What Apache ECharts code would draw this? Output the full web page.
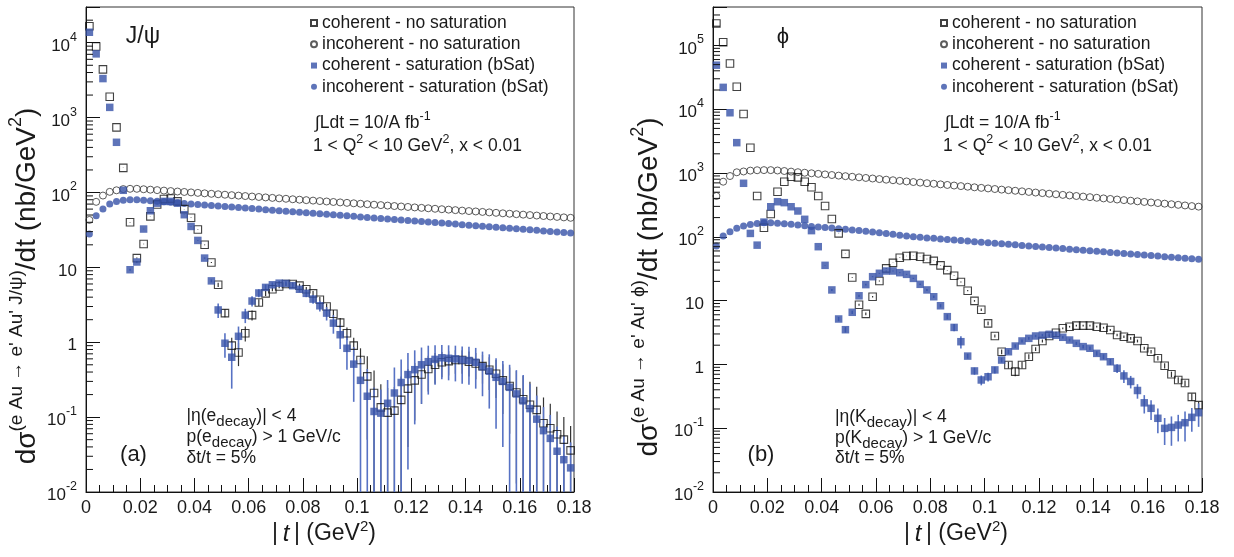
<!DOCTYPE html>
<html>
<head>
<meta charset="utf-8">
<script src="https://cdn.jsdelivr.net/npm/echarts@6/dist/echarts.min.js"></script>
<style>
html,body{margin:0;padding:0;background:#fff;}
#c{width:1234px;height:557px;}
</style>
</head>
<body>
<div id="c"></div>
<script>
// ---------- data ----------
const tBins = [0.00125,0.00375,0.00625,0.00875,0.01125,0.01375,0.01625,0.01875,0.02125,0.02375,
0.02625,0.02875,0.03125,0.03375,0.03625,0.03875,0.04125,0.04375,0.04625,0.04875,
0.05125,0.05375,0.05625,0.05875,0.06125,0.06375,0.06625,0.06875,0.07125,0.07375,
0.07625,0.07875,0.08125,0.08375,0.08625,0.08875,0.09125,0.09375,0.09625,0.09875,
0.10125,0.10375,0.10625,0.10875,0.11125,0.11375,0.11625,0.11875,0.12125,0.12375,
0.12625,0.12875,0.13125,0.13375,0.13625,0.13875,0.14125,0.14375,0.14625,0.14875,
0.15125,0.15375,0.15625,0.15875,0.16125,0.16375,0.16625,0.16875,0.17125,0.17375,
0.17625,0.17875];

const xTickLabels = ['0','0.02','0.04','0.06','0.08','0.1','0.12','0.14','0.16','0.18'];
const seriesNames = ['coherent - no saturation','incoherent - no saturation','coherent - saturation (bSat)','incoherent - saturation (bSat)'];

// (a) J/psi
const jpsiCohNoSat = [16600,8900,4400,1900,740,213,40,13.3,20.5,48,
69,82,83,76,60,46,32,20,11.6,5.85,
2.45,0.9,0.73,1.32,2.3,3.4,4.5,5.1,5.55,6.0,
6.0,5.7,5.1,4.5,3.7,3.0,2.4,1.83,1.32,0.9,
0.58,0.35,0.21,0.135,0.115,0.122,0.17,0.24,0.31,0.37,
0.44,0.50,0.54,0.56,0.58,0.58,0.55,0.52,0.48,0.43,
0.38,0.31,0.26,0.213,0.173,0.146,0.125,0.083,0.071,0.059,
0.05,0.036];
const jpsiCohNoSatErr = [0.2,0.2,0.2,0.2,0.2,0.2,0.2,0.2,0.2,0.2,
0.2,0.2,0.2,0.2,0.2,0.2,0.2,0.2,0.2,0.4,
0.3,0.25,0.25,0.3,0.35,0.35,0.35,0.3,0.3,0.3,
0.3,0.35,0.35,0.35,0.35,0.3,0.3,0.28,0.25,0.25,
0.25,0.3,0.21,0.14,0.13,0.13,0.18,0.2,0.22,0.22,
0.22,0.22,0.2,0.2,0.2,0.2,0.2,0.2,0.2,0.2,
0.2,0.2,0.2,0.2,0.18,0.15,0.13,0.1,0.08,0.06,
0.05,0.04];
const jpsiCohSat = [13800,7100,3320,1370,468,107,9.3,11.8,32.5,57,
72,76,76,72,50.5,35.2,22.9,13.3,6.6,2.7,
0.97,0.63,1.2,2.3,3.55,4.55,5.4,5.85,6.15,6.1,
5.7,5.1,4.5,3.77,3.07,2.45,1.8,1.26,0.83,0.51,
0.31,0.19,0.119,0.113,0.153,0.21,0.29,0.37,0.43,0.50,
0.55,0.59,0.62,0.61,0.60,0.58,0.57,0.54,0.47,0.41,
0.34,0.30,0.25,0.204,0.165,0.13,0.094,0.066,0.052,0.035,
0.027,0.021];
const jpsiCohSatErr = [0.3,0.3,0.3,0.3,0.3,0.3,0.3,0.3,0.3,0.3,
0.3,0.3,0.3,0.3,0.3,0.3,0.3,0.3,0.3,0.6,
0.35,0.39,0.42,0.5,0.55,0.55,0.5,0.45,0.4,0.4,
0.4,0.45,0.5,0.5,0.5,0.5,0.5,0.45,0.4,0.35,
0.3,0.25,0.13,0.12,0.16,0.25,0.3,0.35,0.35,0.35,
0.35,0.32,0.3,0.3,0.3,0.3,0.3,0.3,0.28,0.28,
0.27,0.26,0.25,0.22,0.2,0.15,0.1,0.07,0.055,0.04,
0.03,0.025];
const jpsiIncNoSat = [43,75,91,102,107,111,112,112,110.5,109,
107.5,106,104.5,103,101.6,100.2,98.8,97.4,96,94.7,
93.4,92.1,90.8,89.6,88.3,87.1,85.9,84.7,83.5,82.4,
81.2,80.1,79,77.9,76.8,75.8,74.7,73.7,72.7,71.7,
70.7,69.7,68.7,67.8,66.8,65.9,65,64.1,63.2,62.3,
61.5,60.6,59.8,59,58.1,57.3,56.5,55.8,55,54.2,
53.5,52.7,52,51.3,50.6,49.9,49.2,48.5,47.8,47.2,
46.5,45.9];
const jpsiIncSat = [28,49,60,70,76,79,80,80,78.7,77.5,
76.3,75,73.8,72.7,71.5,70.4,69.3,68.2,67.1,66,
65,64,63,62,61,60,59,58.1,57.2,56.3,
55.4,54.5,53.6,52.8,52,51.1,50.3,49.5,48.8,48,
47.2,46.5,45.7,45,44.3,43.6,42.9,42.2,41.6,40.9,
40.3,39.6,39,38.4,37.8,37.2,36.6,36,35.4,34.9,
34.3,33.8,33.2,32.7,32.2,31.7,31.2,30.7,30.2,29.7,
29.3,28.8];

// (b) phi
const phiCohNoSat = [220000,112000,52000,22500,8400,2490,436,139,228,509,
731,875,855,731,597,436,304,190,113,54,
23,8.6,6.2,11.5,20.3,32,39,47,50,50.4,
48.8,44.9,42,35.7,30,24.5,19.6,14.3,9.9,7.2,
4.4,2.79,1.58,0.98,0.77,0.98,1.32,1.74,2.33,2.79,
3.14,3.68,3.9,4.05,4.05,4.05,3.9,3.76,3.46,2.89,
2.72,2.56,2.33,1.79,1.58,1.25,0.95,0.70,0.57,0.51,
0.31,0.23];
const phiCohNoSatErr = [0.5,0.5,0.5,0.5,0.5,0.5,0.5,0.5,0.5,0.5,
0.5,0.5,0.5,0.5,0.5,0.5,0.5,0.5,0.5,0.3,
0.3,0.3,0.3,0.3,0.3,0.3,0.3,0.3,0.3,0.3,
0.3,0.3,0.3,0.3,0.3,0.3,0.3,0.3,0.3,0.3,
0.3,0.15,0.14,0.12,0.12,0.12,0.12,0.12,0.12,0.12,
0.12,0.12,0.12,0.12,0.12,0.12,0.12,0.12,0.12,0.12,
0.12,0.12,0.12,0.1,0.1,0.1,0.09,0.07,0.06,0.05,
0.04,0.03];
const phiCohSat = [49000,22000,8800,2990,690,113,74,170,296,355,
343,296,254,188,125,70,35.7,14.7,5.15,3.5,
6.56,11.9,17.8,23.7,26.8,29.1,29.1,27.4,25.8,22.3,
18,14.7,11.5,8.3,5.6,3.8,2.27,1.35,0.79,0.57,
0.64,0.82,1.17,1.58,1.94,2.33,2.56,2.79,2.87,2.96,
2.87,2.66,2.41,2.14,1.9,1.79,1.49,1.32,1.10,0.87,
0.66,0.54,0.39,0.25,0.205,0.143,0.0995,0.103,0.112,0.122,
0.148,0.175];
const phiCohSatErr = [0.3,0.3,0.3,0.3,0.3,0.3,0.3,0.3,0.3,0.3,
0.3,0.3,0.3,0.3,0.3,0.3,0.3,0.5,0.4,0.35,
0.4,0.5,0.5,0.5,0.5,0.5,0.5,0.5,0.5,0.5,
0.5,0.5,0.5,0.5,0.5,0.5,0.5,0.12,0.1,0.1,
0.1,0.1,0.1,0.12,0.12,0.12,0.12,0.12,0.12,0.12,
0.12,0.12,0.12,0.12,0.12,0.12,0.12,0.12,0.12,0.14,
0.15,0.12,0.1,0.08,0.07,0.06,0.045,0.05,0.05,0.06,
0.06,0.07];
const phiIncNoSat = [436,731,897,1026,1057,1090,1105,1110,1110,1095,
1075,1052,1030,1010,990,970,950,930,910,892,
873,855,837,820,803,786,770,754,738,722,
707,692,678,664,650,636,623,610,597,585,
573,561,549,538,527,516,505,494,484,474,
464,454,445,436,427,418,409,400,392,384,
376,368,360,352,345,338,331,324,317,310,
303,297];
const phiIncSat = [72,103,120,136,148,156,162,166,166,163,
160,157,153,149,145,142,140,137,134,131,
128,125,122,119,116,113,110,106,103,100,
98,96,94.5,92.5,91,89,87.3,85.6,84,82.4,
80.8,79.2,77.7,76.2,74.8,73.3,71.9,70.6,69.2,67.9,
66.6,65.3,64,62.8,61.6,60.4,59.3,58.1,57,55.9,
54.8,53.8,52.8,51.7,50.8,49.8,48.8,47.9,47,46.1,
45.2,44.3];

// ---------- chart ----------
const FONT = '"Liberation Sans", Arial, Helvetica, sans-serif';
const TXT = '#1a1a1a';
const BLUE = '#3651a8';
const BLUE_ERR = '#5772c4';
const YMIN = 0.01;
const yMaxA = 30000, yMaxB = 400000;

function pts(ys) { return tBins.map((t, i) => [t, ys[i]]); }

function minorLogTicks(maxV) {
  const out = [];
  for (let d = -2; d <= 6; d++) {
    for (let m = 2; m <= 9; m++) {
      const v = m * Math.pow(10, d);
      if (v < maxV) out.push(v);
    }
  }
  return out;
}

function xAxisCfg(gi) {
  return {
    type: 'value', gridIndex: gi, min: 0, max: 0.18, interval: 0.02,
    axisLine: { show: true, onZero: false, lineStyle: { color: '#111', width: 1 } },
    axisTick: { show: true, inside: true, length: 14, lineStyle: { color: '#111', width: 1 } },
    minorTick: { show: true, splitNumber: 4, length: 7, lineStyle: { color: '#111', width: 1 } },
    splitLine: { show: false }, minorSplitLine: { show: false },
    axisLabel: {
      show: true, margin: 7, fontSize: 18, color: TXT, fontFamily: FONT, hideOverlap: false,
      formatter: v => xTickLabels[Math.round(v / 0.02)] || ''
    }
  };
}

function powLabel(v) {
  const lg = Math.log10(v);
  const e = Math.round(lg);
  if (Math.abs(lg - e) > 1e-6) return '';
  if (e === 0) return '{b|1}';
  if (e === 1) return '{b|10}';
  return '{b|10}{s|' + e + '}';
}

function yAxisCfg(gi, maxV) {
  return {
    type: 'log', logBase: 10, gridIndex: gi, min: YMIN, max: maxV, splitNumber: 10,
    axisLine: { show: true, lineStyle: { color: '#111', width: 1 } },
    axisTick: { show: true, inside: true, length: 14, lineStyle: { color: '#111', width: 1 } },
    splitLine: { show: false },
    axisLabel: {
      show: true, margin: 9, color: TXT, fontFamily: FONT, fontSize: 17, hideOverlap: false,
      formatter: powLabel,
      rich: {
        b: { fontSize: 17, fontFamily: FONT, color: TXT, lineHeight: 24, verticalAlign: 'bottom' },
        s: { fontSize: 12.5, fontFamily: FONT, color: TXT, lineHeight: 13, verticalAlign: 'top' }
      }
    }
  };
}

function minorTickSeries(gi, vals) {
  return {
    type: 'custom', xAxisIndex: gi, yAxisIndex: gi, silent: true, z: 5,
    data: vals.map(v => [0, v]),
    renderItem: (params, api) => {
      const c = api.coord([0, api.value(1)]);
      return { type: 'line', shape: { x1: c[0], y1: c[1], x2: c[0] + 7, y2: c[1] },
        style: { stroke: '#111', lineWidth: 1 } };
    }
  };
}

function errSeries(gi, ys, errs, color, width) {
  return {
    type: 'custom', xAxisIndex: gi, yAxisIndex: gi, silent: true, z: 2,
    data: tBins.map((t, i) => [t, ys[i], errs[i]]),
    renderItem: (params, api) => {
      const x = api.value(0), y = api.value(1), e = api.value(2);
      let lo = y - e; if (lo < YMIN) lo = YMIN;
      const p1 = api.coord([x, y + e]);
      const p2 = api.coord([x, lo]);
      return { type: 'line', shape: { x1: p1[0], y1: p1[1], x2: p2[0], y2: p2[1] },
        style: { stroke: color, lineWidth: width } };
    }
  };
}

function markerSeries(gi, name, ys, kind) {
  const base = { type: 'scatter', name, xAxisIndex: gi, yAxisIndex: gi, data: pts(ys), silent: true, z: 3 };
  if (kind === 'openSq') return Object.assign(base, { symbol: 'rect', symbolSize: 7.5,
    itemStyle: { color: 'rgba(255,255,255,0)', borderColor: '#111', borderWidth: 1.1 } });
  if (kind === 'openCi') return Object.assign(base, { symbol: 'circle', symbolSize: 7,
    itemStyle: { color: 'rgba(255,255,255,0)', borderColor: '#333', borderWidth: 1 } });
  if (kind === 'fullSq') return Object.assign(base, { symbol: 'rect', symbolSize: 7.5, z: 4,
    itemStyle: { color: BLUE, borderWidth: 0 } });
  return Object.assign(base, { symbol: 'circle', symbolSize: 7, itemStyle: { color: BLUE, borderWidth: 0 } });
}

function panelSeries(gi, cohNoSat, cohNoSatErr, cohSat, cohSatErr, incNoSat, incSat, maxV) {
  return [
    minorTickSeries(gi, minorLogTicks(maxV)),
    errSeries(gi, cohNoSat, cohNoSatErr, '#333', 1.2),
    errSeries(gi, cohSat, cohSatErr, BLUE_ERR, 1.6),
    markerSeries(gi, seriesNames[1], incNoSat, 'openCi'),
    markerSeries(gi, seriesNames[3], incSat, 'fullCi'),
    markerSeries(gi, seriesNames[0], cohNoSat, 'openSq'),
    markerSeries(gi, seriesNames[2], cohSat, 'fullSq')
  ];
}

const mStyle = { fontSize: 17.5, fontFamily: FONT, fill: TXT, color: TXT, lineHeight: 26, verticalAlign: 'middle' };
const supStyle = { fontSize: 12.5, fontFamily: FONT, fill: TXT, color: TXT, lineHeight: 12, verticalAlign: 'top' };
const subStyle = { fontSize: 15, fontFamily: FONT, fill: TXT, color: TXT, lineHeight: 15, verticalAlign: 'bottom' };

function txt(x, y, text, opts) {
  opts = opts || {};
  return {
    type: 'text', x, y, rotation: opts.rot || 0, silent: true, z: 10,
    style: {
      text, align: opts.align || 'left', verticalAlign: 'middle',
      fontSize: opts.size || 17.5, fontFamily: FONT, fill: TXT,
      rich: opts.rich || { m: mStyle, s: supStyle, d: subStyle }
    }
  };
}

const yTitleRich = {
  m: { fontSize: 28, fontFamily: FONT, fill: TXT, lineHeight: 40, verticalAlign: 'middle' },
  s: { fontSize: 19, fontFamily: FONT, fill: TXT, lineHeight: 19, verticalAlign: 'top' },
  s2: { fontSize: 18, fontFamily: FONT, fill: TXT, lineHeight: 18, verticalAlign: 'top' }
};
const xTitleRich = {
  m: { fontSize: 23, fontFamily: FONT, fill: TXT, lineHeight: 30, verticalAlign: 'middle' },
  i: { fontSize: 24, fontFamily: FONT, fontStyle: 'italic', fill: TXT, lineHeight: 30, verticalAlign: 'middle' },
  s: { fontSize: 15, fontFamily: FONT, fill: TXT, lineHeight: 15, verticalAlign: 'top' }
};

function legendCfg(left) {
  return {
    left, top: 12.3, orient: 'vertical', itemWidth: 6, itemHeight: 6, itemGap: 0, itemTextGap: 16,
    selectedMode: false, data: seriesNames, padding: 0,
    textStyle: { fontSize: 17.5, lineHeight: 21.3, color: TXT, fontFamily: FONT }
  };
}

const option = {
  animation: false,
  backgroundColor: '#fff',
  textStyle: { fontFamily: FONT },
  grid: [
    { left: 86, top: 7, width: 488, height: 485, show: true, borderColor: '#333', borderWidth: 1, backgroundColor: 'transparent' },
    { left: 713, top: 7, width: 489, height: 485, show: true, borderColor: '#333', borderWidth: 1, backgroundColor: 'transparent' }
  ],
  xAxis: [xAxisCfg(0), xAxisCfg(1)],
  yAxis: [yAxisCfg(0, yMaxA), yAxisCfg(1, yMaxB)],
  legend: [legendCfg(310), legendCfg(940)],
  series: [].concat(
    panelSeries(0, jpsiCohNoSat, jpsiCohNoSatErr, jpsiCohSat, jpsiCohSatErr, jpsiIncNoSat, jpsiIncSat, yMaxA),
    panelSeries(1, phiCohNoSat, phiCohNoSatErr, phiCohSat, phiCohSatErr, phiIncNoSat, phiIncSat, yMaxB)
  ),
  graphic: { elements: [
    // panel (a)
    txt(143, 37, '{m|J/ψ}', { align: 'center', rich: { m: Object.assign({}, mStyle, { fontSize: 23 }) } }),
    txt(315, 123, '{m|∫Ldt = 10/A fb}{s|-1}'),
    txt(313, 146, '{m|1 < Q}{s|2}{m| < 10 GeV}{s|2}{m|, x < 0.01}'),
    txt(186.5, 416, '{m||η(e}{d|decay}{m|)| < 4}'),
    txt(186.5, 437, '{m|p(e}{d|decay}{m|) > 1 GeV/c}'),
    txt(186.5, 458, '{m|δt/t = 5%}'),
    txt(133.5, 455, '{m|(a)}', { align: 'center', rich: { m: Object.assign({}, mStyle, { fontSize: 22 }) } }),
    txt(27, 286, '{m|dσ}{s|(e Au → e\' Au\' J/ψ)}{m|/dt (nb/GeV}{s2|2}{m|)}', { align: 'center', rot: Math.PI / 2, rich: yTitleRich }),
    txt(324, 534, '{m||\u2009}{i|t}{m|\u2009| (GeV}{s|2}{m|)}', { align: 'center', rich: xTitleRich }),
    // panel (b)
    txt(783, 37, '{m|ϕ}', { align: 'center', rich: { m: Object.assign({}, mStyle, { fontSize: 22 }) } }),
    txt(945, 123, '{m|∫Ldt = 10/A fb}{s|-1}'),
    txt(943, 146, '{m|1 < Q}{s|2}{m| < 10 GeV}{s|2}{m|, x < 0.01}'),
    txt(835, 417, '{m||η(K}{d|decay}{m|)| < 4}'),
    txt(835, 438, '{m|p(K}{d|decay}{m|) > 1 GeV/c}'),
    txt(835, 458, '{m|δt/t = 5%}'),
    txt(761, 455, '{m|(b)}', { align: 'center', rich: { m: Object.assign({}, mStyle, { fontSize: 22 }) } }),
    txt(649, 287, '{m|dσ}{s|(e Au → e\' Au\' ϕ)}{m|/dt (nb/GeV}{s2|2}{m|)}', { align: 'center', rot: Math.PI / 2, rich: yTitleRich }),
    txt(956, 534, '{m||\u2009}{i|t}{m|\u2009| (GeV}{s|2}{m|)}', { align: 'center', rich: xTitleRich })
  ] }
};

const chart = echarts.init(document.getElementById('c'), null, { renderer: 'canvas' });
chart.setOption(option);
</script>
</body>
</html>
